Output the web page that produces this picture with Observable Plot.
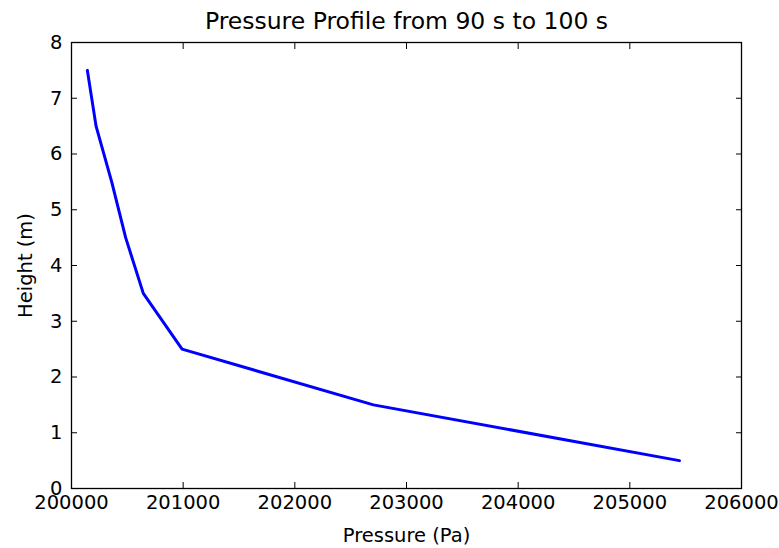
<!DOCTYPE html>
<html><head><meta charset="utf-8">
<script src="https://cdn.jsdelivr.net/npm/d3@7"></script>
<script src="https://cdn.jsdelivr.net/npm/@observablehq/plot@0.6"></script>
<style>
body{margin:0;background:#fff;}
#title{height:36px;box-sizing:border-box;padding-top:10px;margin-left:72px;width:669px;text-align:center;font-family:"DejaVu Sans";font-size:23.5px;line-height:23.5px;color:#000;white-space:nowrap;}
</style>
</head><body>
<div id="title">Pressure Profile from 90 s to 100 s</div>
<div id="chart"></div>
<script>
const heights = [7.5, 6.5, 5.5, 4.5, 3.5, 2.5, 1.5, 0.5];
const pressures = [200142, 200220, 200360, 200485, 200643, 200990, 202704, 205444];
const xTicks = [200000, 201000, 202000, 203000, 204000, 205000, 206000];
const yTicks = [0, 1, 2, 3, 4, 5, 6, 7, 8];
const xLabel = "Pressure (Pa)";
const yLabel = "Height (m)";

const data = heights.map((h, i) => ({p: pressures[i], h}));

const chart = Plot.plot({
  width: 779,
  height: 512,
  marginLeft: 71,
  marginRight: 38,
  marginTop: 6,
  marginBottom: 60,
  style: {fontFamily: "DejaVu Sans", fontSize: "19.5px", color: "#000", background: "#fff", overflow: "visible"},
  x: {domain: [200000, 206000]},
  y: {domain: [0, 8]},
  marks: [
    Plot.line(data, {x: "p", y: "h", stroke: "#0000ff", strokeWidth: 3}),
    Plot.axisX({ticks: xTicks, anchor: "bottom", tickSize: 0, tickPadding: 7, tickFormat: d => String(d), label: null}),
    Plot.axisX({ticks: xTicks, anchor: "bottom", tickSize: -6, tickFormat: () => "", label: null}),
    Plot.axisX({ticks: xTicks, anchor: "top", tickSize: -6, tickFormat: () => "", label: null}),
    Plot.axisY({ticks: yTicks, anchor: "left", tickSize: 0, tickPadding: 9, tickFormat: d => String(d), label: null}),
    Plot.axisY({ticks: yTicks, anchor: "left", tickSize: -6, tickFormat: () => "", label: null}),
    Plot.axisY({ticks: yTicks, anchor: "right", tickSize: -6, tickFormat: () => "", label: null}),
    Plot.frame({stroke: "#000", strokeWidth: 1.3}),
    Plot.text([xLabel], {frameAnchor: "bottom", text: d => d, dy: 47, lineAnchor: "middle", fontSize: 19.5}),
    Plot.text([yLabel], {frameAnchor: "left", text: d => d, dx: -46, rotate: -90, lineAnchor: "middle", textAnchor: "middle", fontSize: 19.5})
  ]
});
document.getElementById("chart").appendChild(chart);
</script>
</body></html>
